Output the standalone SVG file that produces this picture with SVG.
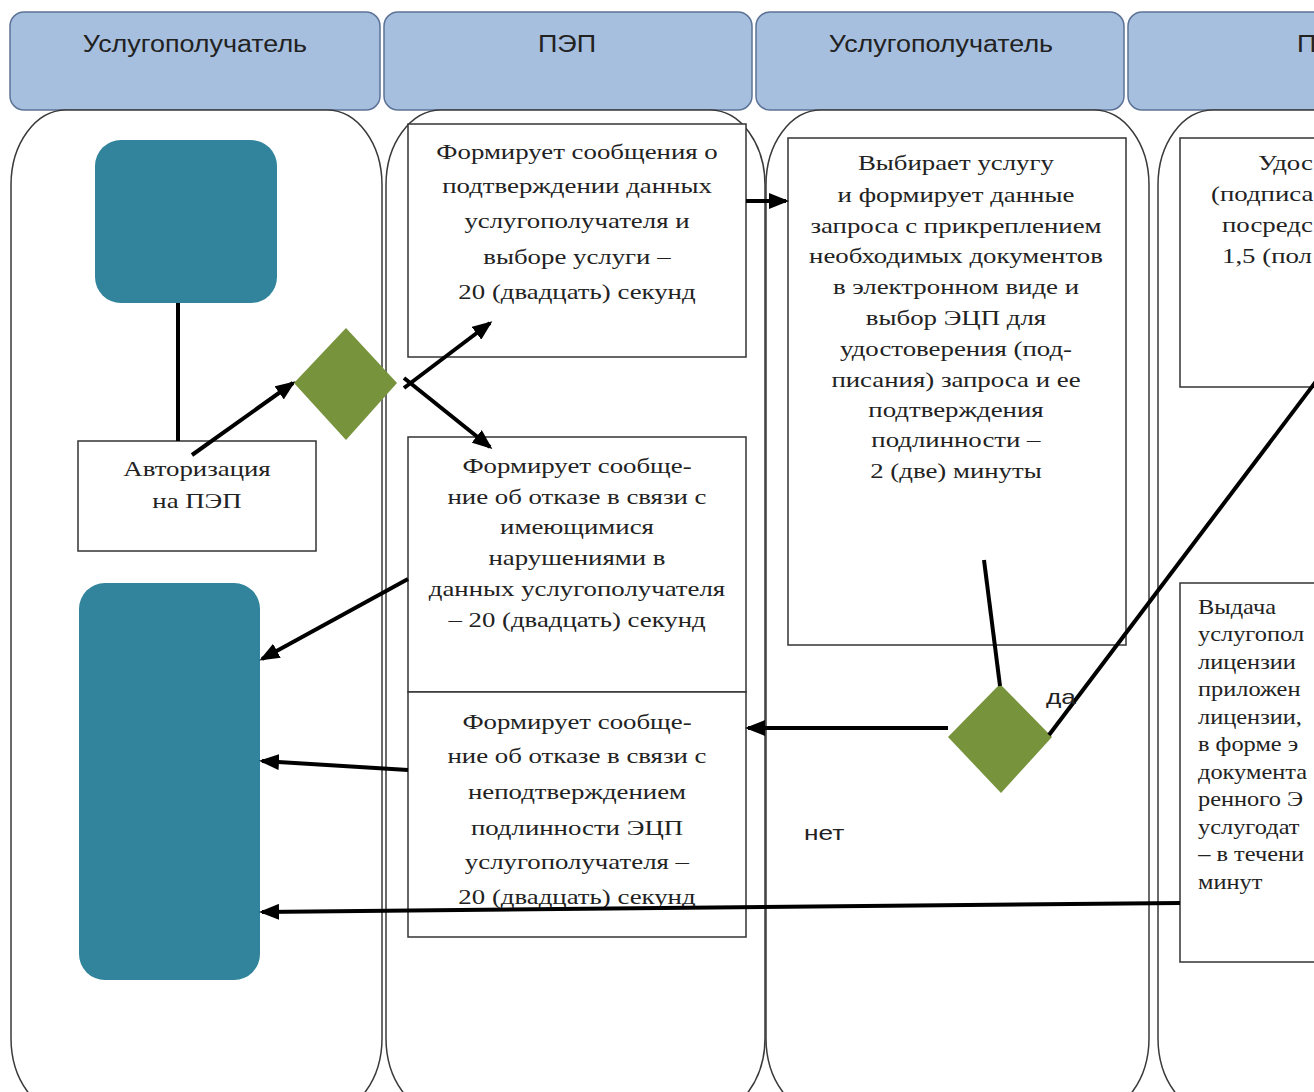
<svg xmlns="http://www.w3.org/2000/svg" width="1314" height="1092" viewBox="0 0 1314 1092">
<style>
.hdr{fill:#a7bfdf;stroke:#5d7396;stroke-width:1.5}
.lane{fill:#fff;stroke:#3a3a3a;stroke-width:1.5}
.box{fill:#fff;stroke:#333;stroke-width:1.5}
.teal{fill:#31849b}
.dia{fill:#77933c}
text{transform-box:fill-box}
.ht{font-family:"Liberation Sans",Arial,sans-serif;font-size:23px;fill:#222;text-anchor:middle;transform-origin:center;transform:scaleX(1.17)}
.hs{font-family:"Liberation Sans",Arial,sans-serif;font-size:23px;fill:#222;transform-origin:left;transform:scaleX(1.17)}
.t{font-family:"Liberation Serif","Times New Roman",serif;font-size:22px;fill:#222;text-anchor:middle;transform-origin:center;transform:scaleX(1.22)}
.ts{font-family:"Liberation Serif","Times New Roman",serif;font-size:22px;fill:#222;transform-origin:left;transform:scaleX(1.22)}
.tl{font-family:"Liberation Serif","Times New Roman",serif;font-size:20px;fill:#222;transform-origin:left;transform:scaleX(1.22)}
.lbl{font-family:"Liberation Sans",Arial,sans-serif;font-size:21px;fill:#222;transform-origin:left;transform:scaleX(1.25)}
.c{stroke:#000;stroke-width:4;fill:none}
.ca{stroke:#000;stroke-width:4;fill:none;marker-end:url(#ah)}
</style>
<defs>
<marker id="ah" markerUnits="userSpaceOnUse" markerWidth="20" markerHeight="16" viewBox="0 0 20 16" refX="17" refY="8" orient="auto">
<path d="M0,0 L20,8 L0,16 z" fill="#000"/>
</marker>
</defs>
<g id="headers">
<rect class="hdr" x="10" y="12" width="370" height="98" rx="14"/>
<text class="ht" x="195" y="52">Услугополучатель</text>
<rect class="hdr" x="384" y="12" width="368" height="98" rx="14"/>
<text class="ht" x="567" y="52">ПЭП</text>
<rect class="hdr" x="756" y="12" width="368" height="98" rx="14"/>
<text class="ht" x="941" y="52">Услугополучатель</text>
<rect class="hdr" x="1128" y="12" width="380" height="98" rx="14"/>
<text class="hs" x="1297" y="52">П</text>
</g>
<g id="lanes">
<rect class="lane" x="11" y="110" width="371" height="1003" rx="55" ry="75"/>
<rect class="lane" x="386" y="110" width="379" height="1003" rx="55" ry="75"/>
<rect class="lane" x="766" y="110" width="383" height="1003" rx="55" ry="75"/>
<rect class="lane" x="1158" y="110" width="300" height="1003" rx="55" ry="75"/>
</g>
<g id="start">
<rect class="teal" x="95" y="140" width="182" height="163" rx="26"/>
</g>
<g id="end">
<rect class="teal" x="79" y="583" width="181" height="397" rx="26"/>
</g>
<g id="auth">
<rect class="box" x="78" y="441" width="238" height="110"/>
<text class="t" x="197" y="476">Авторизация</text>
<text class="t" x="197" y="508">на ПЭП</text>
</g>
<g id="decision1">
<polygon class="dia" points="294,383 346,328 397,383 346,440"/>
</g>
<g id="pep-confirm">
<rect class="box" x="408" y="124" width="338" height="233"/>
<text class="t" x="577" y="159">Формирует сообщения о</text>
<text class="t" x="577" y="193">подтверждении данных</text>
<text class="t" x="577" y="228">услугополучателя и</text>
<text class="t" x="577" y="264">выборе услуги –</text>
<text class="t" x="577" y="299">20 (двадцать) секунд</text>
</g>
<g id="pep-refuse1">
<rect class="box" x="408" y="437" width="338" height="255"/>
<text class="t" x="577" y="473">Формирует сообще-</text>
<text class="t" x="577" y="504">ние об отказе в связи с</text>
<text class="t" x="577" y="534">имеющимися</text>
<text class="t" x="577" y="565">нарушениями в</text>
<text class="t" x="577" y="596">данных услугополучателя</text>
<text class="t" x="577" y="627">– 20 (двадцать) секунд</text>
</g>
<g id="pep-refuse2">
<rect class="box" x="408" y="692" width="338" height="245"/>
<text class="t" x="577" y="729">Формирует сообще-</text>
<text class="t" x="577" y="763">ние об отказе в связи с</text>
<text class="t" x="577" y="799">неподтверждением</text>
<text class="t" x="577" y="835">подлинности ЭЦП</text>
<text class="t" x="577" y="869">услугополучателя –</text>
<text class="t" x="577" y="904">20 (двадцать) секунд</text>
</g>
<g id="select-service">
<rect class="box" x="788" y="138" width="338" height="507"/>
<text class="t" x="956" y="170">Выбирает услугу</text>
<text class="t" x="956" y="202">и формирует данные</text>
<text class="t" x="956" y="233">запроса с прикреплением</text>
<text class="t" x="956" y="263">необходимых документов</text>
<text class="t" x="956" y="294">в электронном виде и</text>
<text class="t" x="956" y="325">выбор ЭЦП для</text>
<text class="t" x="956" y="356">удостоверения (под-</text>
<text class="t" x="956" y="387">писания) запроса и ее</text>
<text class="t" x="956" y="417">подтверждения</text>
<text class="t" x="956" y="447">подлинности –</text>
<text class="t" x="956" y="478">2 (две) минуты</text>
</g>
<g id="decision2">
<polygon class="dia" points="948,737 1000,684 1052,737 1001,793"/>
</g>
<g id="sign">
<rect class="box" x="1180" y="138" width="300" height="249"/>
<text class="ts" x="1258" y="170">Удос</text>
<text class="ts" x="1211" y="201">(подписа</text>
<text class="ts" x="1222" y="232">посредс</text>
<text class="ts" x="1222" y="263">1,5 (пол</text>
</g>
<g id="issue">
<rect class="box" x="1180" y="583" width="300" height="379"/>
<text class="tl" x="1198" y="614">Выдача</text>
<text class="tl" x="1198" y="641">услугопол</text>
<text class="tl" x="1198" y="669">лицензии</text>
<text class="tl" x="1198" y="696">приложен</text>
<text class="tl" x="1198" y="724">лицензии,</text>
<text class="tl" x="1198" y="751">в форме э</text>
<text class="tl" x="1198" y="779">документа</text>
<text class="tl" x="1198" y="806">ренного Э</text>
<text class="tl" x="1198" y="834">услугодат</text>
<text class="tl" x="1198" y="861">– в течени</text>
<text class="tl" x="1198" y="889">минут</text>
</g>
<g id="connectors">
<line class="c" x1="178" y1="303" x2="178" y2="441"/>
<line class="ca" x1="192" y1="455" x2="293" y2="383"/>
<line class="ca" x1="404" y1="388" x2="490" y2="323"/>
<line class="ca" x1="404" y1="378" x2="490" y2="447"/>
<line class="ca" x1="746" y1="201" x2="786" y2="201"/>
<line class="c" x1="984" y1="560" x2="1000" y2="686"/>
<line class="ca" x1="948" y1="728" x2="748" y2="728"/>
<line class="c" x1="1049" y1="735" x2="1320" y2="376"/>
<line class="ca" x1="408" y1="579" x2="262" y2="659"/>
<line class="ca" x1="408" y1="770" x2="262" y2="761"/>
<line class="ca" x1="1180" y1="903" x2="262" y2="912"/>
<text class="lbl" x="1046" y="704">да</text>
<text class="lbl" x="804" y="840">нет</text>
</g>
</svg>
